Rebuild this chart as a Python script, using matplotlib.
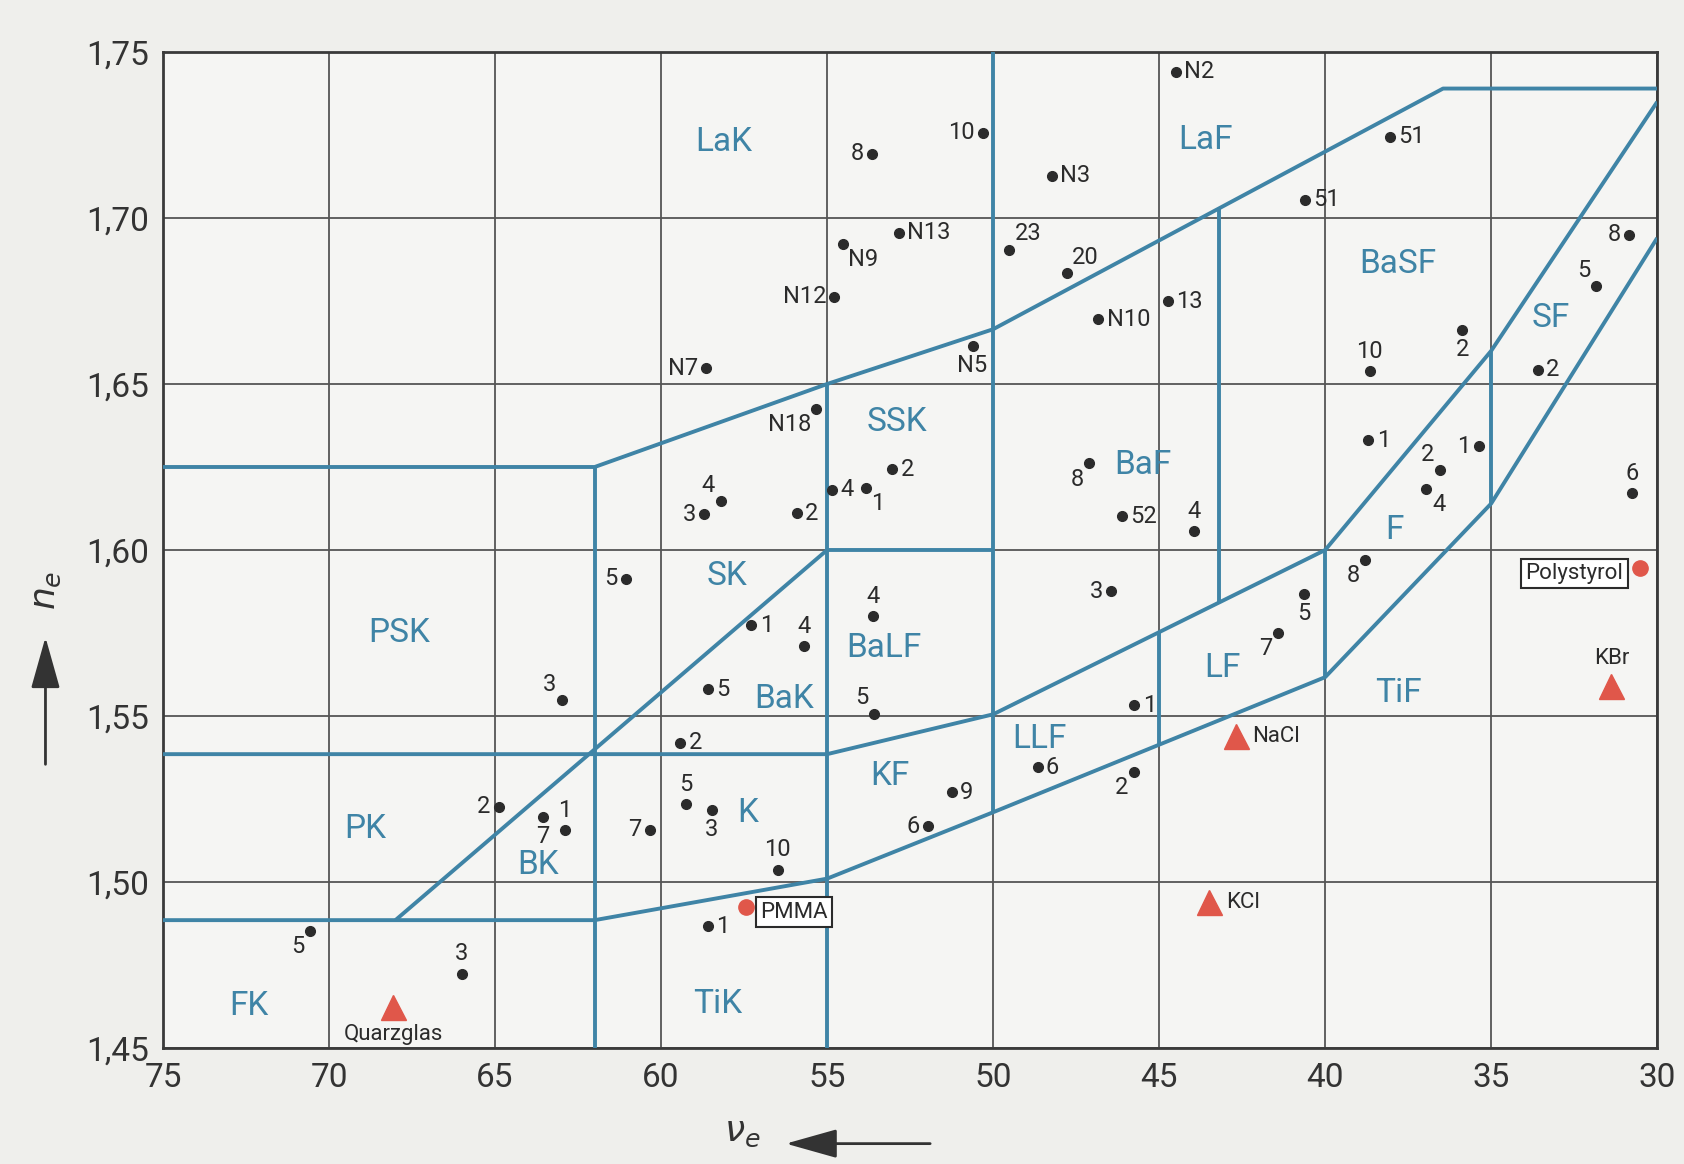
import numpy as np
import matplotlib
matplotlib.use("Agg")
import matplotlib.pyplot as plt

plt.rcParams['font.family'] = ['Roboto', 'DejaVu Sans']

# Abbe-Zahl / Brechzahl der Glaeser
glass_nu = [44.5, 50.3, 53.65, 48.24, 38.06, 40.6, 52.84, 54.53, 49.52, 47.79,
            54.78, 46.83, 44.73, 50.62, 58.64, 55.32, 30.84, 31.84, 35.87, 38.66,
            33.59, 38.7, 35.37, 36.55, 36.95, 30.77, 43.95, 38.79, 40.64, 41.42,
            53.04, 54.84, 53.83, 58.21, 58.7, 55.92, 47.1, 46.13, 46.45, 53.62,
            57.28, 55.7, 58.59, 53.59, 45.75, 59.42, 48.66, 45.75, 51.25, 59.24,
            58.48, 51.96, 60.33, 61.07, 62.99, 64.89, 63.55, 62.9, 70.56, 66.0,
            56.49, 58.59]
glass_n = [1.744, 1.7257, 1.7193, 1.7128, 1.7245, 1.7055, 1.6956, 1.6923, 1.6905, 1.6835,
           1.6763, 1.6695, 1.675, 1.6615, 1.6548, 1.6425, 1.695, 1.6795, 1.6664, 1.6538,
           1.6543, 1.633, 1.6313, 1.624, 1.6185, 1.6171, 1.6057, 1.5969, 1.5868, 1.5749,
           1.6243, 1.6182, 1.6187, 1.6148, 1.6107, 1.6111, 1.6261, 1.6101, 1.5875, 1.58,
           1.5773, 1.571, 1.5581, 1.5507, 1.5532, 1.5419, 1.5345, 1.5332, 1.527, 1.5234,
           1.5217, 1.5168, 1.5158, 1.5914, 1.5548, 1.5227, 1.5197, 1.5157, 1.4852, 1.4724,
           1.5037, 1.4866]
glass_names = ['N2', '10', '8', 'N3', '51', '51', 'N13', 'N9', '23', '20',
               'N12', 'N10', '13', 'N5', 'N7', 'N18', '8', '5', '2', '10',
               '2', '1', '1', '2', '4', '6', '4', '8', '5', '7',
               '2', '4', '1', '4', '3', '2', '8', '52', '3', '4',
               '1', '4', '5', '5', '1', '2', '6', '2', '9', '5',
               '3', '6', '7', '5', '3', '2', '7', '1', '5', '3',
               '10', '1']
# where the number sits relative to its dot
glass_place = ['r', 'l', 'l', 'r', 'r', 'r', 'r', 'br', 'tr', 'tr',
               'l', 'r', 'r', 'b', 'l', 'bl', 'l', 'tl', 'b', 't',
               'r', 'r', 'l', 'tl', 'br', 't', 't', 'bl', 'b', 'bl',
               'r', 'r', 'br', 'tl', 'l', 'r', 'bl', 'r', 'l', 't',
               'r', 't', 'r', 'tl', 'r', 'r', 'r', 'bl', 'r', 't',
               'b', 'l', 'l', 'l', 'tl', 'l', 'b', 't', 'bl', 't',
               't', 'r']

# Kunststoffe (Kreis) und Kristalle (Dreieck)
plastic_names = ['PMMA', 'Polystyrol']
plastic_nu = [57.43, 30.52]
plastic_n = [1.4926, 1.5946]

crystal_names = ['Quarzglas', 'NaCl', 'KCl', 'KBr']
crystal_nu = [68.06, 42.69, 43.5, 31.38]
crystal_n = [1.4622, 1.5439, 1.4939, 1.5591]

# Glasgebiete
region_names = ['LaK', 'LaF', 'BaSF', 'SF', 'SSK', 'BaF', 'F', 'SK', 'PSK', 'BaLF',
                'LF', 'TiF', 'BaK', 'LLF', 'KF', 'K', 'PK', 'BK', 'TiK', 'FK']
region_nu = [58.1, 43.6, 37.8, 33.2, 52.9, 45.5, 37.9, 58.0, 67.9, 53.3,
             43.1, 37.8, 56.3, 48.6, 53.1, 57.4, 68.9, 63.7, 58.3, 72.4]
region_n = [1.723, 1.7235, 1.686, 1.670, 1.6385, 1.6255, 1.6059, 1.5923, 1.5751, 1.5706,
            1.5645, 1.557, 1.5551, 1.5432, 1.5318, 1.5208, 1.516, 1.505, 1.4633, 1.4627]

# Grenzlinien der Glasgebiete (nu, n)
borders = [
    [(75, 1.625), (62, 1.625), (55, 1.65), (50, 1.6665), (36.45, 1.739), (30, 1.739)],
    [(75, 1.5385), (55, 1.5385), (50, 1.5505), (40, 1.60), (35, 1.66), (30, 1.735)],
    [(75, 1.4885), (62, 1.4885), (55, 1.501), (50, 1.521), (40, 1.5617), (35, 1.614), (30, 1.694)],
    [(68, 1.4885), (55, 1.60), (50, 1.60)],
    [(62, 1.625), (62, 1.45)],
    [(55, 1.65), (55, 1.45)],
    [(50, 1.75), (50, 1.521)],
    [(43.2, 1.7029), (43.2, 1.5842)],
    [(45, 1.5753), (45, 1.5414)],
    [(40, 1.60), (40, 1.5617)],
    [(35, 1.66), (35, 1.614)],
]

blue = '#3f84a6'
red = '#e0574a'
ink = '#2b2b2b'

offsets = {'r': (6, 0, 'left', 'center'), 'l': (-6, 0, 'right', 'center'),
           't': (0, 6, 'center', 'bottom'), 'b': (0, -6, 'center', 'top'),
           'tr': (4, 3, 'left', 'bottom'), 'tl': (-4, 3, 'right', 'bottom'),
           'br': (4, -3, 'left', 'top'), 'bl': (-4, -3, 'right', 'top')}

fig = plt.figure(figsize=(16.84, 11.64), dpi=100, facecolor='#efefec')
ax = fig.add_axes([0.0968, 0.0997, 0.8873, 0.8556])
ax.set_facecolor('#f5f5f3')

ax.set_xlim(75, 30)
ax.set_ylim(1.45, 1.75)
xt = np.arange(75, 29, -5)
yt = np.arange(1.45, 1.7501, 0.05)
ax.set_xticks(xt)
ax.set_yticks(yt)
ax.set_xticklabels([f'{v:d}' for v in xt])
ax.set_yticklabels([f'{v:.2f}'.replace('.', ',') for v in yt])
ax.tick_params(length=0, labelsize=24, colors='#333333', pad=10)
ax.grid(True, color='#555555', lw=1.3)
for s in ax.spines.values():
    s.set_color('#3a3a3a')
    s.set_linewidth(2)

for line in borders:
    xs, ys = zip(*line)
    ax.plot(xs, ys, color=blue, lw=2.8, solid_capstyle='butt', zorder=3)

for name, x, y in zip(region_names, region_nu, region_n):
    ax.text(x, y, name, color=blue, fontsize=24, ha='center', va='center', zorder=4)

ax.plot(glass_nu, glass_n, 'o', color=ink, ms=7, zorder=5)
for name, x, y, p in zip(glass_names, glass_nu, glass_n, glass_place):
    dx, dy, ha, va = offsets[p]
    ax.annotate(name, (x, y), xytext=(dx, dy), textcoords='offset points',
                ha=ha, va=va, fontsize=17, color=ink, zorder=5)

ax.plot(plastic_nu, plastic_n, 'o', color=red, ms=11, zorder=6)
box = dict(boxstyle='square,pad=0.2', fc='white', ec=ink, lw=1.5)
ax.annotate(plastic_names[0], (plastic_nu[0], plastic_n[0]), xytext=(10, -4),
            textcoords='offset points', ha='left', va='center', fontsize=16,
            color=ink, bbox=box, zorder=6)
ax.annotate(plastic_names[1], (plastic_nu[1], plastic_n[1]), xytext=(-12, -4),
            textcoords='offset points', ha='right', va='center', fontsize=16,
            color=ink, bbox=box, zorder=6)

ax.plot(crystal_nu, crystal_n, '^', color=red, ms=18, zorder=6)
crystal_place = [(0, -12, 'center', 'top'), (12, 0, 'left', 'center'),
                 (12, 0, 'left', 'center'), (0, 12, 'center', 'bottom')]
for name, x, y, (dx, dy, ha, va) in zip(crystal_names, crystal_nu, crystal_n, crystal_place):
    ax.annotate(name, (x, y), xytext=(dx, dy), textcoords='offset points',
                ha=ha, va=va, fontsize=16, color=ink, zorder=6)

# Achsbeschriftungen mit Pfeilen
fig.text(0.441, 0.013, r'$\nu_e$', fontsize=26, color='#333333', ha='center', va='bottom')
fig.add_artist(matplotlib.patches.FancyArrowPatch(
    (0.554, 0.0175), (0.465, 0.0175), transform=fig.transFigure,
    arrowstyle='-|>,head_length=1.6,head_width=0.45', color='#333333', lw=2,
    mutation_scale=20))
fig.text(0.027, 0.493, r'$n_e$', fontsize=26, color='#333333', rotation=90,
         ha='center', va='center')
fig.add_artist(matplotlib.patches.FancyArrowPatch(
    (0.027, 0.341), (0.027, 0.455), transform=fig.transFigure,
    arrowstyle='-|>,head_length=1.6,head_width=0.45', color='#333333', lw=2,
    mutation_scale=20))

fig.savefig('out.png', dpi=100, facecolor=fig.get_facecolor())
